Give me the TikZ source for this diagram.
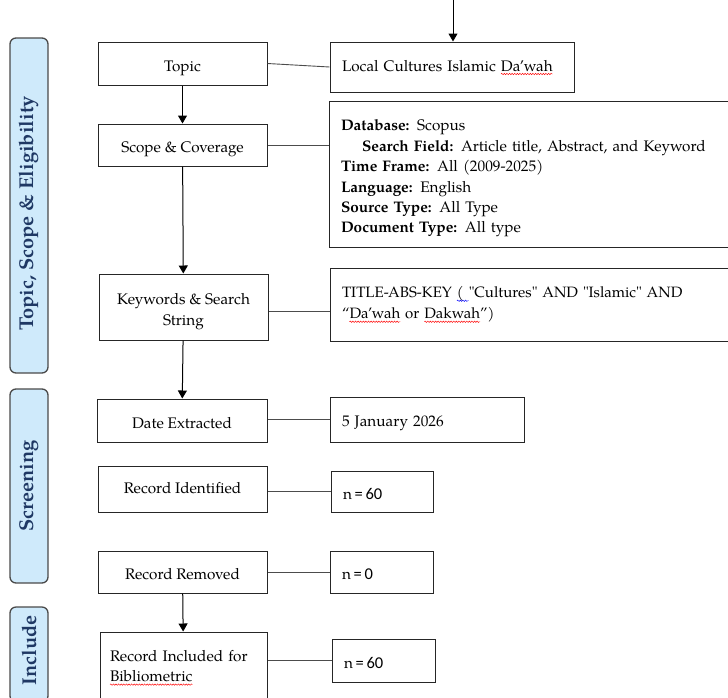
\documentclass[tikz,border=0pt]{standalone}
\usepackage{fontspec}
\setmainfont{texgyrepagella}[Extension=.otf,UprightFont=*-regular,BoldFont=*-bold,ItalicFont=*-italic,BoldItalicFont=*-bolditalic]
\newfontface\plainq{texgyrepagella-regular.otf}
\newfontfamily\carl{Carlito}
\newcommand\sq{{\plainq"}}
\newcommand\ncount[1]{n{\carl\fontsize{16.5}{20}\selectfont\,=\,#1}}
\usetikzlibrary{arrows.meta,decorations.pathmorphing}
\newsavebox\wavebox
\newcommand\wavyline[2]{\leavevmode\sbox\wavebox{#2}\mbox{\rlap{\tikz[overlay]\draw[#1, line width=0.45pt, decorate, decoration={snake, amplitude=0.7pt, segment length=2.6pt}] (0pt,-3pt) -- (\wd\wavebox,-3pt);}\usebox\wavebox}}
\newcommand\redwave[1]{\wavyline{red}{#1}}
\newcommand\bluewave[1]{\wavyline{blue}{#1}}
\definecolor{phasefill}{HTML}{CFEAFB}
\definecolor{phasetext}{HTML}{1F3864}
\definecolor{phaseline}{HTML}{4A4A4A}
\tikzset{
 box/.style={draw=black!85, line width=1pt, inner sep=0pt, font=\fontsize{15.3}{20.4}\selectfont},
 cbox/.style={box, align=center},
 lbox/.style={box, align=left, inner xsep=12pt},
 one/.style={text height=18pt, text depth=3pt},
 phase/.style={draw=phaseline, fill=phasefill, rounded corners=6pt, line width=1.3pt, inner sep=0pt},
 phasetxt/.style={rotate=90, text=phasetext, font=\fontsize{20}{22}\selectfont\bfseries},
 link/.style={draw=black!70, line width=0.9pt},
 arr/.style={draw=black, line width=1pt, -{Triangle[width=9pt,length=8pt]}},
}
\begin{document}
\begin{tikzpicture}[x=1pt,y=-1pt]
\useasboundingbox (0,0) rectangle (728,697);
\clip (0,0) rectangle (728,697);
% phase boxes
\node[phase, minimum width=38pt, minimum height=335pt] (p1) at (29,205.5) {};
\node[phasetxt] (p1t) at ([yshift=-8pt]p1.center) {Topic, Scope \& Eligibility};
\node[phase, minimum width=38pt, minimum height=194pt] (p2) at (29,486) {};
\node[phasetxt] (p2t) at (p2.center) {Screening};
\node[phase, minimum width=38pt, minimum height=95pt] (p3) at (29,654.5) {};
\node[phasetxt] (p3t) at ([yshift=4pt]p3.center) {Include};
% left boxes
\node[cbox, one, text height=19pt, minimum width=169pt, minimum height=43pt] (topic) at (182.5,63.5) {Topic};
\node[cbox, one, minimum width=169pt, minimum height=42pt] (scope) at (182.5,145) {Scope \& Coverage};
\node[cbox, minimum width=169pt, minimum height=66pt] (kw) at (183.5,307) {\rule{0pt}{20pt}Keywords \& Search\\String};
\node[cbox, one, text height=19pt, minimum width=170pt, minimum height=43pt] (date) at (182,420.5) {Date Extracted};
\node[cbox, one, text height=12pt, minimum width=169pt, minimum height=46pt] (ident) at (182.5,489) {Record Identified};
\node[cbox, one, minimum width=169pt, minimum height=42pt] (removed) at (182.5,572) {Record Removed};
\node[lbox, inner xsep=10pt, text width=147pt, minimum width=167pt, minimum height=68pt] (incl) at (183.5,666) {Record Included for\\\redwave{Bibliometric}};
% right boxes
\node[lbox, one, text height=12pt, text depth=4pt, text width=220pt, minimum width=244pt, minimum height=50pt] (local) at (452,67) {Local Cultures Islamic \redwave{Da’wah}};
\node[lbox, text width=387pt, minimum width=411pt, minimum height=146pt] (db) at (534.5,174) {\rule{0pt}{20pt}\textbf{Database:} Scopus\\
\hspace*{21pt}\textbf{Search Field:} Article title, Abstract, and Keyword\\
\textbf{Time Frame:} All (2009-2025)\\
\textbf{Language:} English\\
\textbf{Source Type:} All Type\\
\textbf{Document Type:} All type};
\node[lbox, font=\fontsize{15}{21}\selectfont, text width=386pt, minimum width=410pt, minimum height=73pt] (title) at (535,304.5) {TITLE-ABS-KEY \bluewave{(\ }\sq Cultures\sq{} AND \sq Islamic\sq{} AND\\“\redwave{Da’wah} or \redwave{Dakwah}”)};
\node[lbox, one, text height=16pt, text width=170pt, minimum width=194pt, minimum height=45pt] (date5) at (427,419.5) {5 January 2026};
\node[lbox, one, text width=78pt, minimum width=102pt, minimum height=41pt] (n1) at (382,491.5) {\ncount{60}};
\node[lbox, one, text width=79pt, minimum width=103pt, minimum height=42pt] (n2) at (381.5,572) {\ncount{0}};
\node[lbox, one, text width=79pt, minimum width=103pt, minimum height=43pt] (n3) at (383.5,660.5) {\ncount{60}};
% connectors
\coordinate (topin) at (453,0);
\draw[arr] (topin) -- (topin |- local.north);
\draw[arr] (topic) -- (scope);
\draw[arr] (scope) -- (kw);
\draw[arr] (kw) -- (date);
\draw[arr] (removed) -- (incl);
\draw[link] (topic.east) -- (local.west);
\draw[link] (scope.east) -- (scope.east -| db.west);
\draw[link] ([yshift=-4pt]kw.east) -- ([yshift=-4pt]kw.east -| title.west);
\draw[link] (date5.west -| date.east) -- (date5.west);
\draw[link] (n1.west -| ident.east) -- (n1.west);
\draw[link] (removed.east) -- (n2.west);
\draw[link] (n3.west -| incl.east) -- (n3.west);
\end{tikzpicture}
\end{document}
